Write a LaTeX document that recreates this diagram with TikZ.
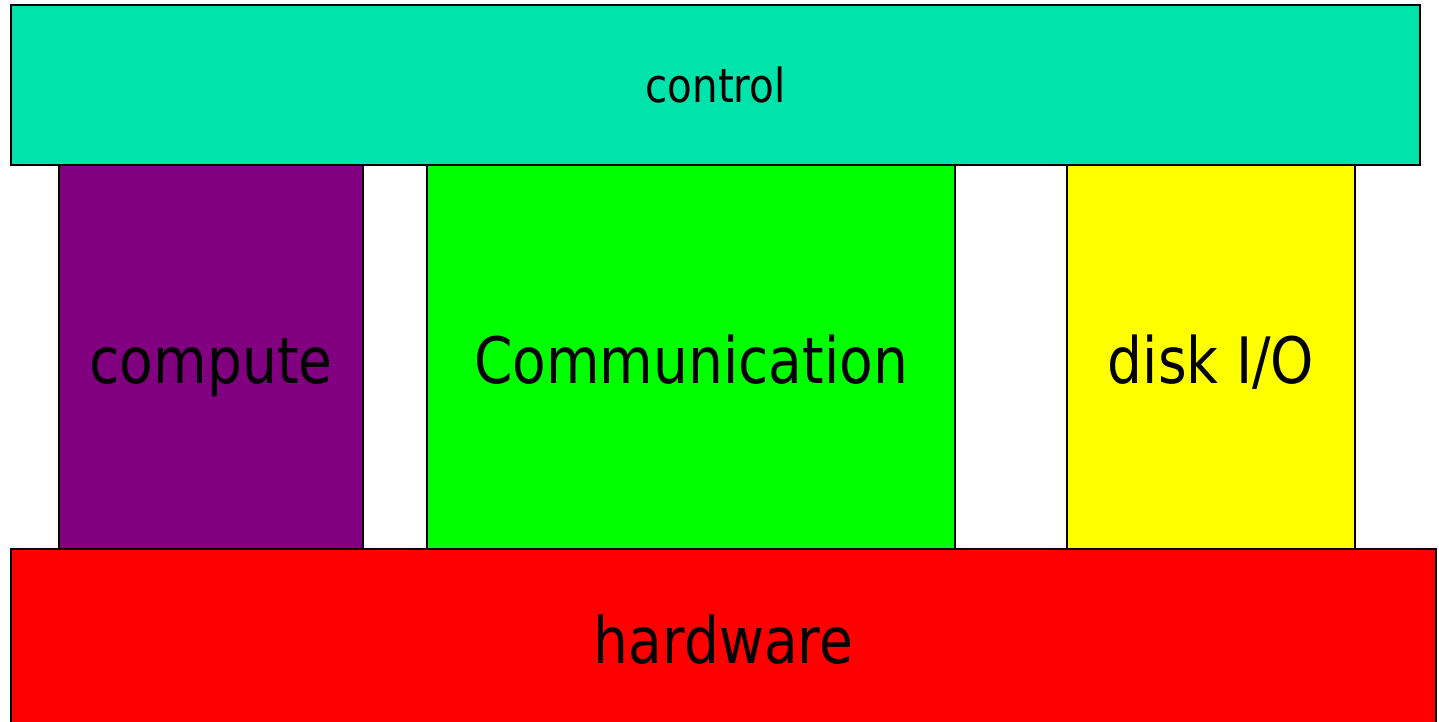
\documentclass[tikz,border=0pt]{standalone}
\usepackage{fontspec}
\setmainfont[FakeStretch=0.86]{DejaVu Sans}
\definecolor{ctrlteal}{HTML}{00E3AA}
\definecolor{compurple}{HTML}{800080}
\definecolor{commgreen}{HTML}{00FF00}
\definecolor{diskyellow}{HTML}{FFFF00}
\definecolor{hwred}{HTML}{FF0000}
\tikzset{
  layer/.style={draw=black, line width=1.3pt},
  biglabel/.style={font=\fontsize{64}{72}\selectfont, text height=46.7pt, text depth=0pt, inner sep=0pt},
  smalllabel/.style={font=\fontsize{47}{54}\selectfont, text height=34.3pt, text depth=0pt, inner sep=0pt}
}
\begin{document}
\begin{tikzpicture}[x=1pt, y=-1pt]
            \clip (0, 0) rectangle (1439, 722);
            \draw[layer, fill=hwred] (11, 549) rectangle (1436, 731) node[midway, biglabel] (hardware) {hardware};
            \draw[layer, fill=compurple] (59, 165) rectangle (363, 549) node[midway, biglabel, yshift=-3pt] (compute) {compute};
            \draw[layer, fill=commgreen] (427, 165) rectangle (955, 549) node[midway, biglabel, yshift=-3pt] (comm) {Communication};
            \draw[layer, fill=diskyellow] (1067, 165) rectangle (1355, 549) node[midway, biglabel, yshift=-3pt] (disk) {disk I/O};
            \draw[layer, fill=ctrlteal] (11, 5) rectangle (1420, 165) node[midway, smalllabel] (control) {control};
        \end{tikzpicture}
\end{document}
